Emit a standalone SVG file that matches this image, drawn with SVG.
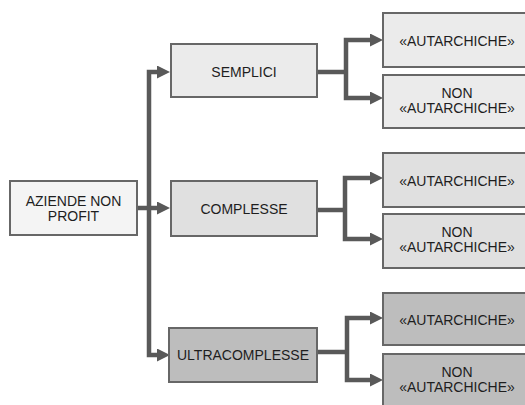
<svg xmlns="http://www.w3.org/2000/svg" width="525" height="405" viewBox="0 0 525 405">
  <style>
    .box { stroke: #676767; stroke-width: 2; }
    .root { fill: #f4f4f4; }
    .g1 { fill: #ebebeb; }
    .g2 { fill: #e0e0e0; }
    .g3 { fill: #bdbdbd; }
    .lbl { font-family: "Liberation Sans", Arial, sans-serif; font-size: 14px; fill: #1e1e1e; text-anchor: middle; }
    .link { fill: none; stroke: #595959; stroke-width: 4.5; stroke-linejoin: miter; }
  </style>
  <defs>
    <marker id="arrow" markerUnits="userSpaceOnUse" markerWidth="13" markerHeight="13" refX="4" refY="6.5" orient="auto-start-reverse">
      <path d="M0,0 L13,6.5 L0,13 z" fill="#595959"/>
    </marker>
  </defs>

  <!-- connectors -->
  <g id="connectors">
    <path class="link" d="M137,208 H161" marker-end="url(#arrow)"/>
    <path class="link" d="M161,72 H149 V355 H161" marker-start="url(#arrow)" marker-end="url(#arrow)"/>
    <path class="link" d="M317,72 H346"/>
    <path class="link" d="M374,40 H346 V98 H374" marker-start="url(#arrow)" marker-end="url(#arrow)"/>
    <path class="link" d="M317,210 H345"/>
    <path class="link" d="M374,178 H345 V239 H374" marker-start="url(#arrow)" marker-end="url(#arrow)"/>
    <path class="link" d="M317,352 H347"/>
    <path class="link" d="M374,318 H347 V380 H374" marker-start="url(#arrow)" marker-end="url(#arrow)"/>
  </g>

  <!-- root -->
  <g id="aziende-non-profit">
    <rect class="box root" x="10" y="181" width="127" height="54"/>
    <text class="lbl" x="73.5" y="206">AZIENDE NON</text>
    <text class="lbl" x="73.5" y="221">PROFIT</text>
  </g>

  <!-- second level -->
  <g id="semplici">
    <rect class="box g1" x="171" y="44" width="146" height="53"/>
    <text class="lbl" x="244" y="77">SEMPLICI</text>
  </g>
  <g id="complesse">
    <rect class="box g2" x="171" y="181" width="146" height="55"/>
    <text class="lbl" x="244" y="214">COMPLESSE</text>
  </g>
  <g id="ultracomplesse">
    <rect class="box g3" x="169" y="328" width="148" height="54"/>
    <text class="lbl" x="243" y="360">ULTRACOMPLESSE</text>
  </g>

  <!-- third level: semplici -->
  <g id="semplici-autarchiche">
    <rect class="box g1" x="383" y="13" width="150" height="54"/>
    <text class="lbl" x="457" y="46">«AUTARCHICHE»</text>
  </g>
  <g id="semplici-non-autarchiche">
    <rect class="box g1" x="383" y="75" width="150" height="53"/>
    <text class="lbl" x="457" y="98">NON</text>
    <text class="lbl" x="457" y="113">«AUTARCHICHE»</text>
  </g>

  <!-- third level: complesse -->
  <g id="complesse-autarchiche">
    <rect class="box g2" x="383" y="153" width="150" height="54"/>
    <text class="lbl" x="457" y="186">«AUTARCHICHE»</text>
  </g>
  <g id="complesse-non-autarchiche">
    <rect class="box g2" x="383" y="214" width="150" height="54"/>
    <text class="lbl" x="457" y="237">NON</text>
    <text class="lbl" x="457" y="252">«AUTARCHICHE»</text>
  </g>

  <!-- third level: ultracomplesse -->
  <g id="ultracomplesse-autarchiche">
    <rect class="box g3" x="383" y="293" width="150" height="52"/>
    <text class="lbl" x="457" y="325">«AUTARCHICHE»</text>
  </g>
  <g id="ultracomplesse-non-autarchiche">
    <rect class="box g3" x="383" y="354" width="150" height="54"/>
    <text class="lbl" x="457" y="377">NON</text>
    <text class="lbl" x="457" y="392">«AUTARCHICHE»</text>
  </g>
</svg>
